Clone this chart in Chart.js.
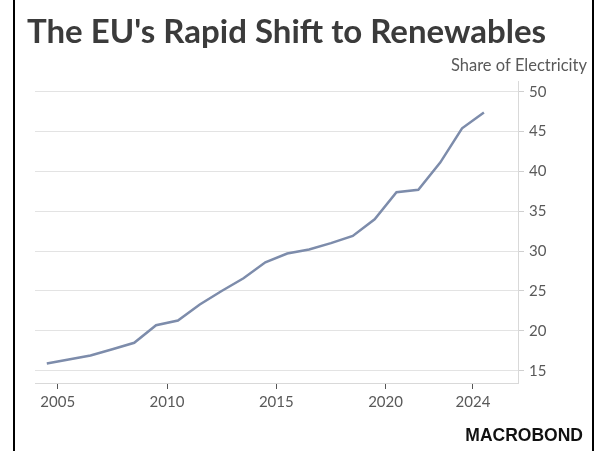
<!DOCTYPE html>
<html>
<head>
<meta charset="utf-8">
<script src="https://cdn.jsdelivr.net/npm/chart.js@4.4.1/dist/chart.umd.min.js"></script>
<style>
html, body { margin: 0; padding: 0; background: #fff; }
#wrap { position: relative; width: 595px; height: 451px; overflow: hidden; }
#wrap:before, #wrap:after { content: ''; position: absolute; top: 0; bottom: 0; width: 2px; background: #000; }
#wrap:before { left: 13px; }
#wrap:after { left: 592px; }
</style>
</head>
<body>
<div id="wrap"><canvas id="chart" width="595" height="451"></canvas></div>
<script>
// EU renewables share of electricity, annual (%)
var years = [2004, 2005, 2006, 2007, 2008, 2009, 2010, 2011, 2012, 2013, 2014,
             2015, 2016, 2017, 2018, 2019, 2020, 2021, 2022, 2023, 2024];
var share = [15.9, 16.4, 16.9, 17.7, 18.5, 20.7, 21.3, 23.3, 25.0, 26.6, 28.6,
             29.7, 30.2, 31.0, 31.9, 34.0, 37.4, 37.7, 41.1, 45.4, 47.4];
var xTicks = [2005, 2010, 2015, 2020, 2024];
var yTicks = [15, 20, 25, 30, 35, 40, 45, 50];

var titleText = "The EU's Rapid Shift to Renewables";
var unitText = 'Share of Electricity';
var sourceText = 'MACROBOND';

var labelFont = 'Lato, "Open Sans", sans-serif';
var labelColor = '#595959';

// points sit in the middle of each year
var points = [];
for (var i = 0; i < years.length; i++) {
	points.push({ x: years[i] + 0.5, y: share[i] });
}

var textPlugin = {
	id: 'texts',
	afterDraw: function(chart) {
		var ctx = chart.ctx;
		ctx.save();
		ctx.textBaseline = 'alphabetic';

		ctx.fillStyle = '#3b3b3b';
		ctx.textAlign = 'left';
		ctx.font = 'bold 33px ' + labelFont;
		ctx.fillText(titleText, 27, 43);

		ctx.fillStyle = labelColor;
		ctx.textAlign = 'right';
		ctx.font = '16.5px ' + labelFont;
		ctx.fillText(unitText, 587, 71);

		ctx.fillStyle = '#111';
		ctx.font = 'bold 17.5px "Liberation Sans", Arial, sans-serif';
		ctx.fillText(sourceText, 583, 441);
		ctx.restore();
	}
};

const ctx = document.getElementById('chart').getContext('2d');
const myChart = new Chart(ctx, {
	type: 'line',
	data: {
		datasets: [{
			label: unitText,
			data: points,
			borderColor: '#7d8cab',
			borderWidth: 2.5,
			pointRadius: 0,
			tension: 0,
			fill: false
		}]
	},
	options: {
		responsive: false,
		animation: false,
		layout: { padding: { left: 35, top: 81, right: 0, bottom: 0 } },
		plugins: {
			legend: { display: false },
			tooltip: { enabled: false },
			title: { display: false }
		},
		scales: {
			x: {
				type: 'linear',
				position: 'bottom',
				min: 2003.96,
				max: 2026.06,
				afterBuildTicks: function(s) { s.ticks = xTicks.map(function(v) { return { value: v }; }); },
				afterFit: function(s) { s.height = 68; },
				ticks: {
					autoSkip: false,
					maxRotation: 0,
					padding: 4,
					color: labelColor,
					font: { family: labelFont, size: 15 },
					callback: function(v) { return String(v); }
				},
				grid: { drawOnChartArea: false, tickLength: 6, tickColor: '#555', tickWidth: 1 },
				border: { color: '#d9d9d9', width: 1 }
			},
			y: {
				position: 'right',
				min: 13.46,
				max: 51.34,
				afterBuildTicks: function(s) { s.ticks = yTicks.map(function(v) { return { value: v }; }); },
				afterFit: function(s) { s.width = 77; },
				ticks: {
					padding: 5,
					color: labelColor,
					font: { family: labelFont, size: 15 }
				},
				grid: { color: '#e3e3e3', lineWidth: 1, tickLength: 6, tickColor: '#cfcfcf' },
				border: { color: '#d9d9d9', width: 1 }
			}
		}
	},
	plugins: [textPlugin]
});
</script>
</body>
</html>
